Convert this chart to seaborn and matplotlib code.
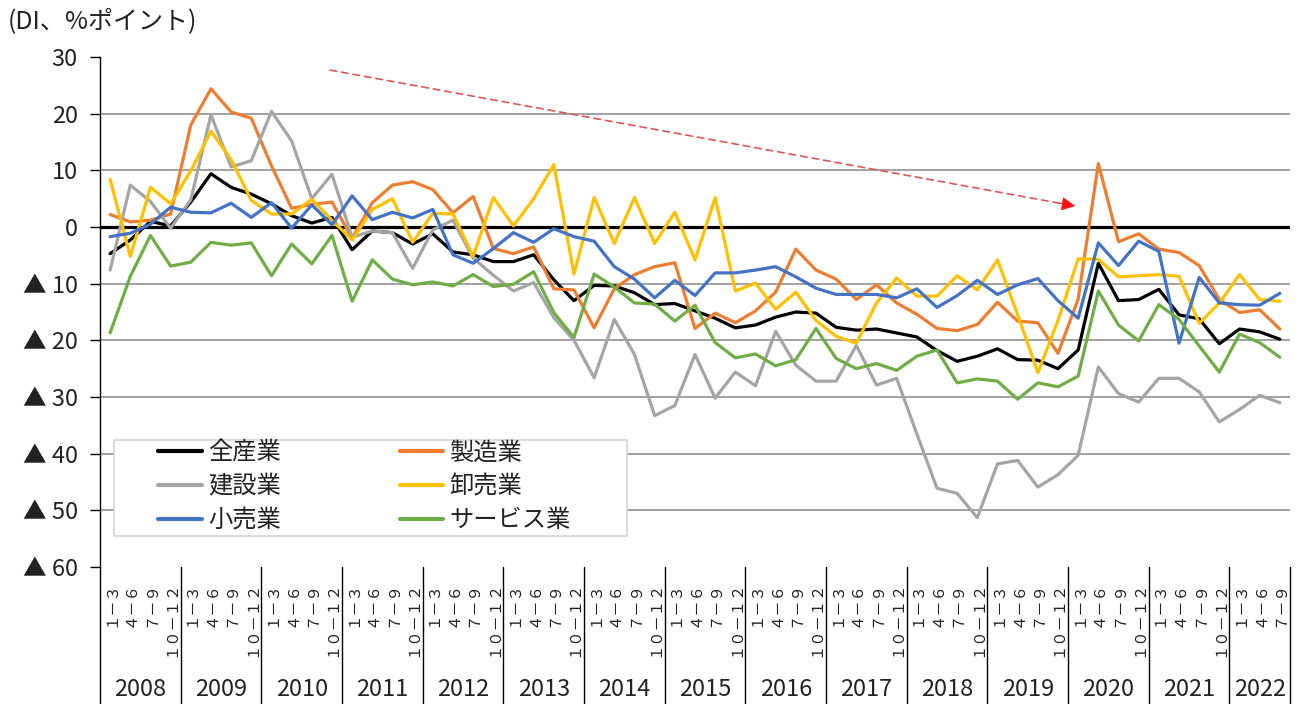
import numpy as np
import pandas as pd
import matplotlib
matplotlib.use("Agg")
import matplotlib.pyplot as plt
import matplotlib.transforms as mtransforms
from matplotlib.patches import Rectangle
import seaborn as sns

# ---------------- data ----------------
YEARS = [str(y) for y in range(2008, 2023)]
QUARTERS = ["１－３", "４－６", "７－９", "１０－１２"]
N_POINTS = 59  # 2008 1-3 ... 2022 7-9

SERIES = ["全産業", "製造業", "建設業", "卸売業", "小売業", "サービス業"]
COLORS = ["#000000", "#ED7D31", "#A5A5A5", "#FFC000", "#4472C4", "#70AD47"]

all_industries = [
    -4.7, -2.3, 1.0, 0.2, 4.4, 9.4, 7.0, 5.8, 4.1, 2.0, 0.7, 1.7, -4.0, -0.7, -1.0, -3.0,
    -1.2, -4.4, -4.9, -6.1, -6.1, -4.9, -9.3, -13.0, -10.3, -10.4, -11.6, -13.7, -13.5, -14.8, -16.1, -17.8,
    -17.3, -15.9, -15.0, -15.2, -17.7, -18.2, -18.0, -18.7, -19.4, -21.8, -23.7, -22.8, -21.5, -23.4, -23.5, -25.0,
    -21.7, -6.4, -13.0, -12.8, -11.0, -15.5, -16.2, -20.6, -18.0, -18.5, -19.8,
]
manufacturing = [
    2.2, 0.9, 1.2, 2.3, 18.0, 24.4, 20.3, 19.2, 10.8, 3.3, 4.0, 4.4, -2.0, 4.3, 7.4, 8.0,
    6.6, 2.5, 5.4, -3.8, -4.7, -3.5, -10.9, -11.1, -17.8, -10.9, -8.4, -7.0, -6.3, -17.9, -15.2, -16.9,
    -14.8, -11.5, -3.9, -7.6, -9.2, -12.8, -10.2, -13.4, -15.4, -17.9, -18.3, -17.2, -13.3, -16.6, -16.9, -22.3,
    -12.7, 11.2, -2.6, -1.2, -3.9, -4.5, -6.8, -12.8, -15.1, -14.6, -18.0,
]
construction = [
    -7.6, 7.4, 4.5, -0.2, 4.8, 19.8, 10.6, 11.7, 20.4, 15.2, 5.0, 9.3, -1.8, -0.7, -1.0, -7.3,
    -0.5, 1.2, -5.5, -8.5, -11.3, -9.8, -16.0, -20.0, -26.6, -16.3, -22.5, -33.3, -31.5, -22.5, -30.2, -25.6,
    -28.0, -18.4, -24.4, -27.2, -27.2, -20.9, -27.9, -26.7, -36.5, -46.1, -47.0, -51.3, -41.8, -41.2, -45.9, -43.7,
    -40.3, -24.7, -29.4, -30.9, -26.7, -26.7, -29.1, -34.4, -32.2, -29.7, -31.0,
]
wholesale = [
    8.4, -5.2, 7.0, 4.1, 9.9, 16.9, 11.9, 4.7, 2.3, 2.3, 4.9, 1.2, -2.3, 3.1, 5.0, -2.7,
    2.4, 2.3, -5.2, 5.2, 0.2, 5.0, 11.0, -8.3, 5.2, -2.9, 5.2, -2.9, 2.6, -5.8, 5.2, -11.3,
    -9.9, -14.5, -11.5, -16.5, -19.3, -20.5, -13.4, -9.0, -12.2, -12.2, -8.6, -11.1, -5.8, -15.5, -25.7, -16.5,
    -5.6, -5.7, -8.8, -8.6, -8.4, -8.7, -17.0, -13.4, -8.4, -12.8, -13.1,
]
retail = [
    -1.7, -1.1, 0.5, 3.5, 2.6, 2.5, 4.2, 1.7, 4.3, -0.2, 3.9, 0.4, 5.5, 1.3, 2.6, 1.6,
    3.1, -4.9, -6.4, -3.8, -1.0, -2.7, -0.3, -1.7, -2.5, -7.0, -9.2, -12.5, -9.4, -12.1, -8.1, -8.1,
    -7.6, -7.0, -8.8, -10.8, -11.9, -11.9, -11.9, -12.5, -10.9, -14.2, -12.1, -9.4, -11.9, -10.2, -9.1, -13.0,
    -16.1, -2.8, -6.8, -2.5, -4.3, -20.5, -8.9, -13.4, -13.7, -13.8, -11.7,
]
services = [
    -18.7, -8.7, -1.5, -6.9, -6.2, -2.7, -3.2, -2.8, -8.6, -3.0, -6.5, -1.5, -13.1, -5.8, -9.2, -10.2,
    -9.7, -10.4, -8.4, -10.5, -10.1, -7.9, -15.1, -19.5, -8.3, -10.6, -13.4, -13.6, -16.6, -13.8, -20.4, -23.1,
    -22.4, -24.5, -23.4, -17.9, -23.2, -25.0, -24.1, -25.3, -22.8, -21.7, -27.5, -26.8, -27.2, -30.4, -27.5, -28.2,
    -26.3, -11.3, -17.3, -20.1, -13.7, -16.3, -21.0, -25.6, -18.9, -20.4, -23.0,
]

YTICKS = [30, 20, 10, 0, -10, -20, -30, -40, -50, -60]
YTICK_LABELS = ["30", "20", "10", "0", "▲ 10", "▲ 20", "▲ 30", "▲ 40", "▲ 50", "▲ 60"]
TITLE = "(DI、%ポイント)"

# annotation arrow (category index, DI value)
ARROW_START = (10.9, 27.7)
ARROW_END = (47.85, 3.7)

# ---------------- build ----------------
values = [all_industries, manufacturing, construction, wholesale, retail, services]
idx = np.arange(N_POINTS)
df = pd.DataFrame({
    "idx": np.tile(idx, len(SERIES)),
    "series": np.repeat(SERIES, N_POINTS),
    "value": np.concatenate([np.asarray(v, dtype=float) for v in values]),
})
quarter_labels = [QUARTERS[i % 4] for i in idx]

sns.set_theme(style="white")
plt.rcParams["font.family"] = ["Noto Sans CJK JP", "DejaVu Sans"]

fig = plt.figure(figsize=(13.06, 7.04), dpi=100)
ax = fig.add_axes([0.0766, 0.1946, 0.9111, 0.7244])

sns.lineplot(data=df, x="idx", y="value", hue="series", hue_order=SERIES,
             palette=dict(zip(SERIES, COLORS)), linewidth=2.3, sort=False,
             ax=ax, legend=True, zorder=3)

ax.set_xlim(-0.5, N_POINTS - 0.5)
ax.set_ylim(-60, 30)
ax.set_xlabel("")
ax.set_ylabel("")

for s in ["top", "right", "bottom"]:
    ax.spines[s].set_visible(False)
ax.spines["left"].set_color("black")
ax.spines["left"].set_linewidth(1.0)

# y axis
ax.set_yticks(YTICKS)
ax.set_yticklabels(YTICK_LABELS)
ax.tick_params(axis="y", left=True, length=7, width=1, color="black",
               labelsize=17, pad=9, labelcolor="#222222")
ax.yaxis.grid(True, color="#9a9a9a", linewidth=1.3)
for val, gl in zip(YTICKS, ax.yaxis.get_gridlines()):
    if val in (30, 0, -60):
        gl.set_visible(False)
ax.axhline(0, color="black", linewidth=2.3, zorder=2.5)

# x axis: quarter labels
ax.set_xticks(idx)
ax.set_xticklabels(quarter_labels, rotation=90, fontsize=11, color="#222222")
ax.tick_params(axis="x", bottom=False, length=0, pad=10)

trans = mtransforms.blended_transform_factory(ax.transData, ax.transAxes)
bottom_y = -(704 - 567) / 510
boundaries = [-0.5 + 4 * k for k in range(len(YEARS))] + [N_POINTS - 0.5]
for b in boundaries:
    ax.plot([b, b], [0, bottom_y], transform=trans, color="black", lw=1.0, clip_on=False)
for k, yr in enumerate(YEARS):
    start = -0.5 + 4 * k
    end = min(start + 4, N_POINTS - 0.5)
    ax.text((start + end) / 2, -0.24, yr, transform=trans, ha="center", va="center",
            fontsize=17, color="#222222")

# title
fig.text(0.006, 1 - 22 / 704, TITLE, ha="left", va="center", fontsize=18, color="#222222")

# arrow
ax.annotate("", xy=ARROW_END, xytext=ARROW_START,
            arrowprops=dict(arrowstyle="-", linestyle=(0, (4, 3)), color="#e05555", lw=1.2,
                            shrinkA=0, shrinkB=10))
ax.annotate("", xy=ARROW_END, xytext=(ARROW_END[0] - 0.8, ARROW_END[1] + 0.5),
            arrowprops=dict(arrowstyle="-|>", color="#ff1010", lw=0.5, mutation_scale=22,
                            shrinkA=0, shrinkB=0))

# legend
frame = Rectangle((0.0118, 0.0608), 0.4311, 0.1882, transform=ax.transAxes,
                  facecolor="white", edgecolor="#d4d4d4", lw=1.2, zorder=4)
ax.add_patch(frame)
handles, labels = ax.get_legend_handles_labels()
hmap = dict(zip(labels, handles))
order = ["全産業", "建設業", "小売業", "製造業", "卸売業", "サービス業"]
leg = ax.legend([hmap[o] for o in order], order, ncol=2, loc="center left",
                bbox_to_anchor=(0.0487, 0.158), frameon=False, fontsize=17.5,
                handlelength=1.8, handletextpad=0.25, columnspacing=4.9,
                labelspacing=0.33, borderpad=0, borderaxespad=0)
leg.set_zorder(5)
for h in leg.legend_handles:
    h.set_linewidth(3.0)
for t in leg.get_texts():
    t.set_color("#222222")

fig.savefig("out.png", dpi=100, facecolor="white")
